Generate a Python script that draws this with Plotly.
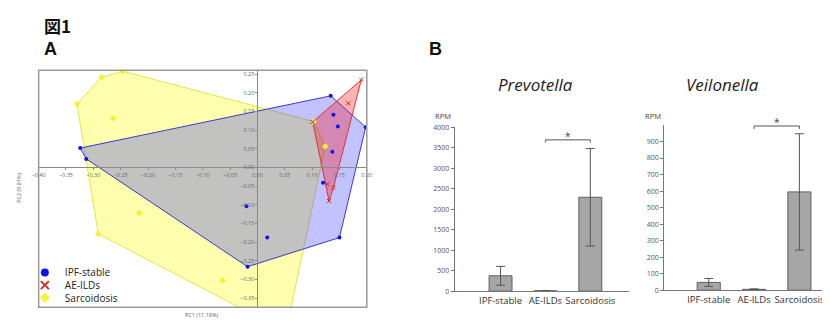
import plotly.graph_objects as go

# The page body keeps an 8px margin, so the figure is 8px smaller and all
# pixel positions below are measured in the 830x324 screenshot frame.
OFF = 8
W, H = 830 - OFF, 324 - OFF

# ---------------- Panel A data (PCA) ----------------
ipf_x = [-0.324, -0.313, -0.020, 0.018, -0.018, 0.150, 0.120, 0.137, 0.147, 0.198, 0.134, 0.139]
ipf_y = [0.052, 0.023, -0.104, -0.188, -0.266, -0.188, -0.041, 0.042, 0.110, 0.108, 0.192, 0.141]
ipf_hull = [0, 10, 9, 5, 4, 1]

ae_x = [0.190, 0.166, 0.101, 0.128, 0.139, 0.131]
ae_y = [0.235, 0.172, 0.122, -0.045, -0.054, -0.090]
ae_hull = [0, 4, 5, 2]

sar_x = [-0.246, -0.285, -0.330, -0.264, -0.216, -0.291, -0.064, 0.052, 0.124, 0.103]
sar_y = [0.258, 0.242, 0.170, 0.132, -0.122, -0.178, -0.303, -0.440, 0.057, 0.123]
sar_hull = [0, 9, 8, 7, 5, 2, 1]

pc_x_ticks = [-0.40, -0.35, -0.30, -0.25, -0.20, -0.15, -0.10, -0.05, 0.00, 0.05, 0.10, 0.15, 0.20]
pc_y_ticks = [-0.35, -0.30, -0.25, -0.20, -0.15, -0.10, -0.05, 0.00, 0.05, 0.10, 0.15, 0.20, 0.25]
pc_x_range = [-0.40, 0.20]
pc_y_range = [-0.375, 0.2604]

# ---------------- Panel B data (RPM) ----------------
categories = ["IPF-stable", "AE-ILDs", "Sarcoidosis"]
prev_mean = [375, 8, 2290]
prev_err = [230, 4, 1190]
veil_mean = [47, 5, 595]
veil_err = [24, 3, 352]
prev_ticks = [0, 500, 1000, 1500, 2000, 2500, 3000, 3500, 4000]
veil_ticks = [0, 100, 200, 300, 400, 500, 600, 700, 800, 900]
prev_sig = 3690
veil_sig = 994


def px(x):
    return (x - OFF) / W


def py(y):
    return 1 - (y - OFF) / H


fig = go.Figure()


def hull_trace(xs, ys, idx, fillc, linec):
    hx = [xs[i] for i in idx] + [xs[idx[0]]]
    hy = [ys[i] for i in idx] + [ys[idx[0]]]
    return go.Scatter(x=hx, y=hy, mode="lines", fill="toself", fillcolor=fillc,
                      line=dict(color=linec, width=1), hoverinfo="skip", showlegend=False,
                      xaxis="x", yaxis="y")


fig.add_trace(hull_trace(sar_x, sar_y, sar_hull, "rgba(255,255,0,0.32)", "rgba(225,225,60,0.9)"))
fig.add_trace(hull_trace(ipf_x, ipf_y, ipf_hull, "rgba(10,10,255,0.25)", "rgba(40,40,210,0.9)"))
fig.add_trace(hull_trace(ae_x, ae_y, ae_hull, "rgba(255,0,0,0.3)", "rgba(220,40,40,0.9)"))

fig.add_trace(go.Scatter(x=sar_x, y=sar_y, mode="markers", showlegend=False,
                         marker=dict(symbol="diamond", size=5, color="#f2f230"), xaxis="x", yaxis="y"))
fig.add_trace(go.Scatter(x=ipf_x, y=ipf_y, mode="markers", showlegend=False,
                         marker=dict(symbol="circle", size=4, color="#1010ee"), xaxis="x", yaxis="y"))
fig.add_trace(go.Scatter(x=ae_x, y=ae_y, mode="markers", showlegend=False,
                         marker=dict(symbol="x-thin", size=4, line=dict(color="#e02020", width=1)),
                         xaxis="x", yaxis="y"))

# legend entries (one legend each, to reproduce the tight spacing)
fig.add_trace(go.Scatter(x=[None], y=[None], mode="markers", name="IPF-stable", legend="legend",
                         marker=dict(symbol="circle", size=8, color="#1010ee"), xaxis="x", yaxis="y"))
fig.add_trace(go.Scatter(x=[None], y=[None], mode="markers", name="AE-ILDs", legend="legend2",
                         marker=dict(symbol="x-thin", size=8, line=dict(color="#e02020", width=1.8)),
                         xaxis="x", yaxis="y"))
fig.add_trace(go.Scatter(x=[None], y=[None], mode="markers", name="Sarcoidosis", legend="legend3",
                         marker=dict(symbol="diamond", size=8, color="#f5f540"), xaxis="x", yaxis="y"))

# ---------------- Panel B bars ----------------
bar_style = dict(color="#a6a6a6", line=dict(color="#5e5e5e", width=1))
fig.add_trace(go.Bar(x=categories, y=prev_mean, marker=bar_style, showlegend=False,
                     error_y=dict(type="data", array=prev_err, color="#555555", thickness=1, width=4.5),
                     xaxis="x2", yaxis="y2"))
fig.add_trace(go.Bar(x=categories, y=veil_mean, marker=bar_style, showlegend=False,
                     error_y=dict(type="data", array=veil_err, color="#555555", thickness=1, width=4.5),
                     xaxis="x3", yaxis="y3"))

# significance brackets
fig.add_trace(go.Scatter(x=[categories[1], categories[1], categories[2], categories[2]],
                         y=[prev_sig - 65, prev_sig, prev_sig, prev_sig - 65], mode="lines",
                         line=dict(color="#555555", width=1), showlegend=False, hoverinfo="skip",
                         xaxis="x2", yaxis="y2"))
fig.add_trace(go.Scatter(x=[categories[1], categories[1], categories[2], categories[2]],
                         y=[veil_sig - 18, veil_sig, veil_sig, veil_sig - 18], mode="lines",
                         line=dict(color="#555555", width=1), showlegend=False, hoverinfo="skip",
                         xaxis="x3", yaxis="y3", cliponaxis=False))

# ---------------- Layout ----------------
xdomA = [px(32), px(365)]
ydomA = [py(311), py(67)]
x0_paper = xdomA[0] + (0 - pc_x_range[0]) / (pc_x_range[1] - pc_x_range[0]) * (xdomA[1] - xdomA[0])
y0_paper = ydomA[0] + (0 - pc_y_range[0]) / (pc_y_range[1] - pc_y_range[0]) * (ydomA[1] - ydomA[0])

tickfA = dict(family="Open Sans", size=5.5, color="#666666")
axA = dict(showgrid=False, zeroline=False, showline=True, linecolor="#8a8a8a", linewidth=1,
           ticks="outside", ticklen=2, tickcolor="#8a8a8a", tickfont=tickfA, tickformat=".2f")

tickfB = dict(family="Open Sans", size=7, color="#555555")
catf = dict(family="Open Sans", size=9.5, color="#333333")
yB = dict(showgrid=False, zeroline=False, showline=True, linecolor="#777777", linewidth=1,
          ticks="outside", ticklen=3, tickcolor="#777777", tickfont=tickfB)
xB = dict(type="category", showgrid=False, zeroline=False, showline=True, linecolor="#777777",
          linewidth=1, ticks="", tickfont=catf, categoryorder="array", categoryarray=categories)

legfont = dict(family="Open Sans", size=10, color="#222222")
leg_common = dict(xanchor="left", yanchor="middle", bgcolor="rgba(0,0,0,0)", font=legfont,
                  borderwidth=0, itemclick=False, itemdoubleclick=False)

fig.update_layout(
    width=W, height=H, margin=dict(l=0, r=0, t=0, b=0),
    paper_bgcolor="white", plot_bgcolor="rgba(0,0,0,0)",
    bargap=0.49,
    xaxis=dict(axA, domain=xdomA, range=pc_x_range, anchor="free", position=y0_paper,
               tickvals=pc_x_ticks),
    yaxis=dict(axA, domain=ydomA, range=pc_y_range, anchor="free", position=x0_paper,
               tickvals=pc_y_ticks),
    xaxis2=dict(xB, domain=[px(454.3), px(631)], range=[-1.02, 2.86], anchor="y2"),
    yaxis2=dict(yB, domain=[py(294.3), py(125.5)], range=[0, 4000], anchor="x2", tickvals=prev_ticks),
    xaxis3=dict(xB, domain=[px(666.7), 1.0], range=[-0.985, 2.565], anchor="y3"),
    yaxis3=dict(yB, domain=[py(293.3), py(123.3)], range=[0, 1000], anchor="x3", tickvals=veil_ticks),
    legend=dict(leg_common, x=px(18), y=py(275)),
    legend2=dict(leg_common, x=px(18), y=py(288)),
    legend3=dict(leg_common, x=px(18), y=py(301)),
    shapes=[dict(type="rect", xref="x domain", yref="y domain", x0=0, x1=1, y0=0, y1=1,
                 line=dict(color="#9a9a9a", width=1.5), layer="above")],
)

ann = []
ann.append(dict(text="<b>図1</b>", x=px(35), y=py(21), xref="paper", yref="paper", xanchor="left",
                yanchor="middle", showarrow=False,
                font=dict(family="Noto Sans CJK JP", size=17, color="#111111")))
ann.append(dict(text="<b>A</b>", x=px(35), y=py(45), xref="paper", yref="paper", xanchor="left",
                yanchor="middle", showarrow=False,
                font=dict(family="Liberation Sans", size=18, color="#111111")))
ann.append(dict(text="<b>B</b>", x=px(426), y=py(45), xref="paper", yref="paper", xanchor="left",
                yanchor="middle", showarrow=False,
                font=dict(family="Liberation Sans", size=18, color="#111111")))
ann.append(dict(text="PC2 (9.81%)", x=px(12), y=py(188), xref="paper", yref="paper", textangle=-90,
                xanchor="center", yanchor="middle", showarrow=False,
                font=dict(family="Open Sans", size=5.5, color="#666666")))
ann.append(dict(text="PC1 (11.18%)", x=px(198), y=py(319), xref="paper", yref="paper",
                xanchor="center", yanchor="middle", showarrow=False,
                font=dict(family="Open Sans", size=5.5, color="#666666")))
ann.append(dict(text="<i>Prevotella</i>", x=px(536.5), y=py(82), xref="paper", yref="paper",
                xanchor="center", yanchor="middle", showarrow=False,
                font=dict(family="Open Sans", size=17, color="#222222")))
ann.append(dict(text="<i>Veilonella</i>", x=px(725.5), y=py(82), xref="paper", yref="paper",
                xanchor="center", yanchor="middle", showarrow=False,
                font=dict(family="Open Sans", size=17, color="#222222")))
ann.append(dict(text="RPM", x=px(442.5), y=py(114), xref="paper", yref="paper",
                xanchor="center", yanchor="middle", showarrow=False,
                font=dict(family="Open Sans", size=7.5, color="#444444")))
ann.append(dict(text="RPM", x=px(655), y=py(114), xref="paper", yref="paper",
                xanchor="center", yanchor="middle", showarrow=False,
                font=dict(family="Open Sans", size=7.5, color="#444444")))
ann.append(dict(text="*", x=1.5, y=prev_sig, xref="x2", yref="y2", xanchor="center",
                yanchor="bottom", yshift=-5, showarrow=False,
                font=dict(family="Open Sans", size=10, color="#444444")))
ann.append(dict(text="*", x=1.5, y=veil_sig, xref="x3", yref="y3", xanchor="center",
                yanchor="bottom", yshift=-5, showarrow=False,
                font=dict(family="Open Sans", size=10, color="#444444")))
fig.update_layout(annotations=ann)

fig.write_html("out.html")
